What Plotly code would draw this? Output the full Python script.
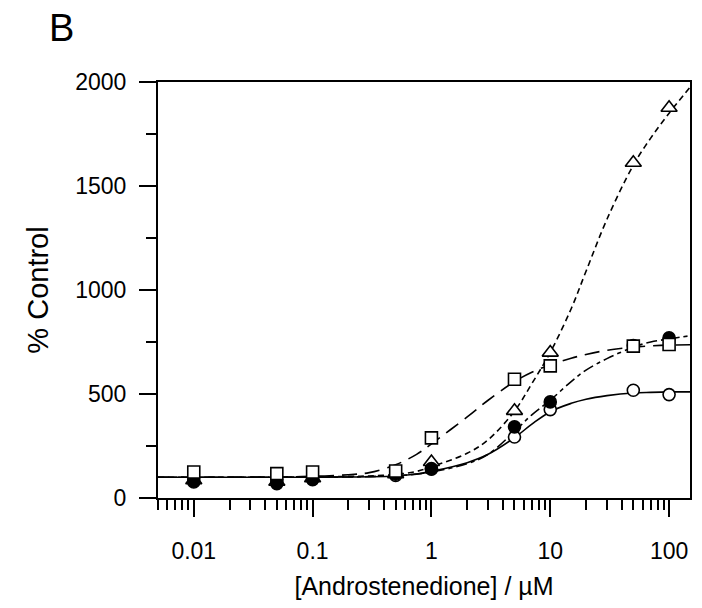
import plotly.graph_objects as go

# ---- data ----
conc = [0.01, 0.05, 0.1, 0.5, 1, 5, 10, 50, 100]
open_circle = [88, 80, 92, 108, 138, 293, 425, 518, 497]
filled_circle = [77, 69, 88, 114, 141, 342, 462, 733, 770]
open_triangle = [85, 78, 95, 115, 173, 419, 699, 1612, 1876]
open_square = [125, 117, 125, 130, 289, 571, 635, 730, 738]

curve_x = [0.005, 0.05, 0.1, 0.2, 0.3, 0.5, 0.75, 1, 2, 3, 5, 7, 10, 15, 20, 30, 50, 70, 100, 150]
curve_open_circle = [100, 100, 100, 101, 102, 106, 115, 128, 170, 210, 290, 355, 415, 455, 475, 492, 505, 508, 510, 510]
curve_filled_circle = [100, 100, 100, 101, 103, 107, 115, 125, 165, 210, 320, 400, 470, 560, 615, 670, 725, 750, 765, 780]
curve_triangle = [100, 100, 101, 104, 106, 113, 128, 150, 215, 280, 418, 550, 700, 910, 1090, 1340, 1600, 1730, 1850, 1975]
curve_square = [100, 101, 104, 112, 122, 160, 210, 260, 390, 470, 560, 605, 640, 672, 690, 710, 725, 731, 735, 737]

x_tick_vals = [0.01, 0.1, 1, 10, 100]
x_tick_text = ["0.01", "0.1", "1", "10", "100"]
x_minor_vals = [m * d for d in [0.001, 0.01, 0.1, 1, 10, 100] for m in range(2, 10)
                if 0.005 <= m * d <= 150 and m * d not in x_tick_vals]
y_tick_vals = [0, 500, 1000, 1500, 2000]

FONT = "Liberation Sans, Arial, sans-serif"
BLACK = "#000000"

fig = go.Figure()

def add_curve(y, dash):
    fig.add_trace(go.Scatter(x=curve_x, y=y, mode="lines", line_shape="spline",
                             line=dict(color=BLACK, width=1.6, dash=dash),
                             showlegend=False, hoverinfo="skip"))

add_curve(curve_open_circle, "solid")
add_curve(curve_filled_circle, "11px,4px,4px,4px")
add_curve(curve_triangle, "6px,4px")
add_curve(curve_square, "15px,8px")

def add_points(y, symbol, fill, size):
    fig.add_trace(go.Scatter(x=conc, y=y, mode="markers",
                             marker=dict(symbol=symbol, size=size, color=fill,
                                         line=dict(color=BLACK, width=1.6)),
                             showlegend=False, cliponaxis=False))

add_points(open_circle, "circle", "white", 12)
add_points(open_triangle, "triangle-up", "white", 14)
add_points(filled_circle, "circle", BLACK, 12)
add_points(open_square, "square", "white", 12)

# the page body adds an 8px margin, so the figure is sized to fit the window
fig.update_layout(
    width=694, height=600,
    margin=dict(l=150, r=12, t=74, b=110),
    paper_bgcolor="white", plot_bgcolor="white",
    font=dict(family=FONT, color=BLACK, size=24),
    showlegend=False,
)

fig.update_xaxes(
    type="log", range=[-2.301, 2.176], automargin=False,
    tickmode="array", tickvals=x_tick_vals, ticktext=x_tick_text,
    ticks="outside", ticklen=17, tickwidth=1.5, tickcolor=BLACK,
    ticklabelstandoff=14,
    minor=dict(tickmode="array", tickvals=x_minor_vals, ticks="outside",
               ticklen=10, tickwidth=1.5, tickcolor=BLACK, showgrid=False),
    showline=True, linecolor=BLACK, linewidth=2, mirror=True,
    showgrid=False, zeroline=False,
    tickfont=dict(size=23, family=FONT),
    title=dict(text="[Androstenedione] / µM", font=dict(size=25, family=FONT), standoff=15),
)

fig.update_yaxes(
    range=[0, 2000], automargin=False,
    tickmode="array", tickvals=y_tick_vals,
    ticks="outside", ticklen=17, tickwidth=1.5, tickcolor=BLACK,
    ticklabelstandoff=8,
    minor=dict(dtick=250, ticks="outside", ticklen=10, tickwidth=1.5,
               tickcolor=BLACK, showgrid=False),
    showline=True, linecolor=BLACK, linewidth=2, mirror=True,
    showgrid=False, zeroline=False,
    tickfont=dict(size=23, family=FONT),
    title=dict(text="% Control", font=dict(size=29, family=FONT), standoff=18),
)

fig.add_annotation(text="B", xref="paper", yref="paper",
                   x=(47 - 158) / 532, y=(498 - 28) / 416,
                   xanchor="left", yanchor="middle", showarrow=False,
                   font=dict(size=38, family=FONT, color=BLACK))

fig.write_html("out.html")
